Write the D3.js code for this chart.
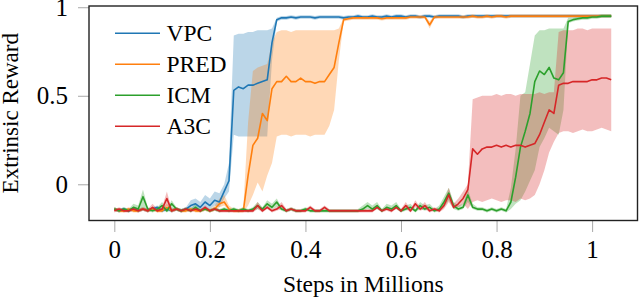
<!DOCTYPE html>
<html><head><meta charset="utf-8">
<script src="https://cdn.jsdelivr.net/npm/d3@7"></script>
<style>body{margin:0;background:#fff}svg{display:block}</style>
</head><body>
<svg id="chart" width="640" height="299"></svg>
<script>
const steps = [0,0.01,0.02,0.03,0.04,0.05,0.06,0.07,0.08,0.09,
0.10,0.11,0.12,0.13,0.14,0.15,0.16,0.17,0.18,0.19,
0.20,0.21,0.22,0.23,0.24,0.25,0.26,0.27,0.28,0.29,
0.30,0.31,0.32,0.33,0.34,0.35,0.36,0.37,0.38,0.39,
0.40,0.41,0.42,0.43,0.44,0.45,0.46,0.47,0.48,0.49,
0.50,0.51,0.52,0.53,0.54,0.55,0.56,0.57,0.58,0.59,
0.60,0.61,0.62,0.63,0.64,0.65,0.66,0.67,0.68,0.69,
0.70,0.71,0.72,0.73,0.74,0.75,0.76,0.77,0.78,0.79,
0.80,0.81,0.82,0.83,0.84,0.85,0.86,0.87,0.88,0.89,
0.90,0.91,0.92,0.93,0.94,0.95,0.96,0.97,0.98,0.99,
1.00,1.01,1.02,1.03,1.04];

const seriesNames = ["VPC","PRED","ICM","A3C"];
const seriesColors = ["#1f77b4","#ff7f0e","#2ca02c","#d62728"];

const vpcMean = [-0.14,-0.15,-0.14,-0.15,-0.14,-0.15,-0.14,-0.15,-0.14,-0.13,
-0.15,-0.14,-0.15,-0.14,-0.15,-0.14,-0.12,-0.11,-0.13,-0.10,
-0.12,-0.09,-0.10,-0.04,0.02,0.53,0.55,0.54,0.56,0.56,
0.57,0.58,0.59,0.80,0.93,0.94,0.94,0.945,0.94,0.945,
0.945,0.945,0.94,0.945,0.945,0.945,0.945,0.945,0.94,0.945,
0.945,0.95,0.945,0.945,0.95,0.945,0.945,0.95,0.945,0.95,
0.95,0.945,0.95,0.95,0.945,0.95,0.95,0.945,0.95,0.95,
0.95,0.95,0.95,0.945,0.95,0.95,0.95,0.95,0.95,0.95,
0.95,0.95,0.95,0.95,0.95,0.95,0.95,0.95,0.95,0.95,
0.95,0.95,0.95,0.95,0.95,0.95,0.95,0.95,0.95,0.95,
0.95,0.95,0.95,0.95,0.95];
const vpcLow = [-0.15,-0.16,-0.15,-0.16,-0.15,-0.16,-0.15,-0.16,-0.15,-0.14,
-0.16,-0.15,-0.16,-0.15,-0.16,-0.15,-0.14,-0.13,-0.15,-0.13,
-0.14,-0.12,-0.13,-0.08,-0.04,0.28,0.27,0.27,0.27,0.27,
0.27,0.27,0.27,0.70,0.92,0.93,0.93,0.935,0.93,0.935,
0.935,0.935,0.93,0.935,0.935,0.935,0.935,0.935,0.93,0.935,
0.935,0.94,0.935,0.935,0.94,0.935,0.935,0.94,0.935,0.94,
0.94,0.935,0.94,0.94,0.935,0.94,0.94,0.935,0.94,0.94,
0.94,0.94,0.94,0.935,0.94,0.94,0.94,0.94,0.94,0.94,
0.94,0.94,0.94,0.94,0.94,0.94,0.94,0.94,0.94,0.94,
0.94,0.94,0.94,0.94,0.94,0.94,0.94,0.94,0.94,0.94,
0.94,0.94,0.94,0.94,0.94];
const vpcHigh = [-0.13,-0.14,-0.13,-0.14,-0.13,-0.14,-0.13,-0.14,-0.13,-0.12,
-0.14,-0.13,-0.14,-0.13,-0.14,-0.13,-0.09,-0.08,-0.10,-0.06,
-0.08,-0.04,-0.05,0.00,0.12,0.84,0.85,0.85,0.86,0.86,
0.87,0.87,0.87,0.88,0.94,0.95,0.95,0.955,0.95,0.955,
0.955,0.955,0.95,0.955,0.955,0.955,0.955,0.955,0.95,0.955,
0.955,0.96,0.955,0.955,0.96,0.955,0.955,0.96,0.955,0.96,
0.96,0.955,0.96,0.96,0.955,0.96,0.96,0.955,0.96,0.96,
0.96,0.96,0.96,0.955,0.96,0.96,0.96,0.96,0.96,0.96,
0.96,0.96,0.96,0.96,0.96,0.96,0.96,0.96,0.96,0.96,
0.96,0.96,0.96,0.96,0.96,0.96,0.96,0.96,0.96,0.96,
0.96,0.96,0.96,0.96,0.96];

const predMean = [-0.14,-0.15,-0.15,-0.14,-0.15,-0.15,-0.14,-0.15,-0.14,-0.15,
-0.15,-0.13,-0.15,-0.14,-0.15,-0.15,-0.14,-0.15,-0.15,-0.14,
-0.15,-0.14,-0.11,-0.10,-0.14,-0.15,-0.15,-0.15,0.05,0.22,
0.26,0.40,0.36,0.54,0.58,0.58,0.61,0.58,0.58,0.60,
0.58,0.58,0.57,0.58,0.58,0.62,0.66,0.80,0.93,0.935,
0.94,0.94,0.94,0.94,0.94,0.94,0.935,0.94,0.94,0.94,
0.94,0.94,0.945,0.945,0.945,0.945,0.90,0.945,0.945,0.945,
0.945,0.945,0.945,0.945,0.945,0.95,0.945,0.945,0.95,0.945,
0.95,0.95,0.945,0.95,0.95,0.95,0.95,0.95,0.95,0.95,
0.95,0.95,0.95,0.95,0.95,0.95,0.95,0.95,0.95,0.95,
0.95,0.95,0.95,0.95,0.95];
const predLow = [-0.15,-0.16,-0.16,-0.15,-0.16,-0.16,-0.15,-0.16,-0.15,-0.16,
-0.16,-0.14,-0.16,-0.15,-0.16,-0.16,-0.15,-0.16,-0.16,-0.15,
-0.16,-0.15,-0.13,-0.12,-0.15,-0.16,-0.16,-0.16,-0.12,-0.06,
0.01,-0.04,0.05,0.12,0.27,0.28,0.28,0.27,0.28,0.28,
0.28,0.27,0.28,0.28,0.28,0.33,0.42,0.70,0.92,0.925,
0.93,0.93,0.93,0.93,0.93,0.93,0.925,0.93,0.93,0.93,
0.93,0.93,0.935,0.935,0.935,0.935,0.88,0.935,0.935,0.935,
0.935,0.935,0.935,0.935,0.935,0.94,0.935,0.935,0.94,0.935,
0.94,0.94,0.935,0.94,0.94,0.94,0.94,0.94,0.94,0.94,
0.94,0.94,0.94,0.94,0.94,0.94,0.94,0.94,0.94,0.94,
0.94,0.94,0.94,0.94,0.94];
const predHigh = [-0.13,-0.14,-0.14,-0.13,-0.14,-0.14,-0.13,-0.14,-0.13,-0.14,
-0.14,-0.11,-0.14,-0.13,-0.14,-0.14,-0.13,-0.14,-0.14,-0.13,
-0.14,-0.12,-0.08,-0.06,-0.12,-0.14,-0.14,-0.13,0.35,0.64,
0.66,0.67,0.68,0.80,0.86,0.87,0.87,0.86,0.87,0.87,
0.87,0.87,0.87,0.87,0.87,0.87,0.87,0.88,0.94,0.945,
0.95,0.95,0.95,0.95,0.95,0.95,0.945,0.95,0.95,0.95,
0.95,0.95,0.955,0.955,0.955,0.955,0.92,0.955,0.955,0.955,
0.955,0.955,0.955,0.955,0.955,0.96,0.955,0.955,0.96,0.955,
0.96,0.96,0.955,0.96,0.96,0.96,0.96,0.96,0.96,0.96,
0.96,0.96,0.96,0.96,0.96,0.96,0.96,0.96,0.96,0.96,
0.96,0.96,0.96,0.96,0.96];

const icmMean = [-0.14,-0.15,-0.14,-0.15,-0.13,-0.14,-0.07,-0.14,-0.15,-0.14,
-0.12,-0.15,-0.11,-0.14,-0.15,-0.14,-0.15,-0.13,-0.15,-0.14,
-0.15,-0.14,-0.15,-0.14,-0.15,-0.14,-0.15,-0.14,-0.15,-0.14,
-0.12,-0.14,-0.11,-0.13,-0.10,-0.14,-0.15,-0.14,-0.15,-0.15,
-0.14,-0.15,-0.15,-0.15,-0.15,-0.15,-0.15,-0.15,-0.15,-0.15,
-0.15,-0.15,-0.14,-0.12,-0.14,-0.12,-0.15,-0.13,-0.14,-0.12,
-0.15,-0.14,-0.13,-0.15,-0.12,-0.14,-0.13,-0.15,-0.14,-0.10,
-0.05,-0.12,-0.14,-0.13,-0.06,-0.13,-0.14,-0.14,-0.15,-0.14,
-0.15,-0.14,-0.15,-0.10,0.04,0.21,0.30,0.40,0.58,0.64,
0.62,0.66,0.60,0.59,0.63,0.92,0.93,0.935,0.94,0.94,
0.945,0.945,0.95,0.95,0.95];
const icmLow = [-0.15,-0.16,-0.15,-0.16,-0.14,-0.15,-0.13,-0.15,-0.16,-0.15,
-0.14,-0.16,-0.14,-0.15,-0.16,-0.15,-0.16,-0.14,-0.16,-0.15,
-0.16,-0.15,-0.16,-0.15,-0.16,-0.15,-0.16,-0.15,-0.16,-0.15,
-0.14,-0.15,-0.13,-0.14,-0.13,-0.15,-0.16,-0.15,-0.16,-0.16,
-0.15,-0.16,-0.16,-0.16,-0.16,-0.16,-0.16,-0.16,-0.16,-0.16,
-0.16,-0.16,-0.15,-0.14,-0.15,-0.14,-0.16,-0.14,-0.15,-0.14,
-0.16,-0.15,-0.14,-0.16,-0.14,-0.15,-0.14,-0.16,-0.15,-0.13,
-0.09,-0.14,-0.15,-0.14,-0.10,-0.14,-0.15,-0.15,-0.16,-0.15,
-0.16,-0.15,-0.16,-0.14,-0.11,-0.09,-0.04,0.02,0.08,0.21,
0.26,0.32,0.30,0.28,0.42,0.91,0.92,0.925,0.93,0.93,
0.935,0.935,0.94,0.94,0.94];
const icmHigh = [-0.13,-0.14,-0.13,-0.14,-0.11,-0.12,-0.03,-0.13,-0.14,-0.13,
-0.10,-0.14,-0.09,-0.13,-0.14,-0.13,-0.14,-0.11,-0.14,-0.13,
-0.14,-0.13,-0.14,-0.13,-0.14,-0.13,-0.14,-0.13,-0.14,-0.13,
-0.10,-0.13,-0.09,-0.11,-0.08,-0.13,-0.14,-0.13,-0.14,-0.14,
-0.13,-0.14,-0.14,-0.14,-0.14,-0.14,-0.14,-0.14,-0.14,-0.14,
-0.14,-0.14,-0.12,-0.10,-0.12,-0.10,-0.14,-0.11,-0.12,-0.10,
-0.14,-0.12,-0.11,-0.14,-0.10,-0.12,-0.11,-0.14,-0.12,-0.07,
-0.02,-0.10,-0.12,-0.11,-0.03,-0.11,-0.13,-0.13,-0.14,-0.13,
-0.14,-0.13,-0.14,-0.02,0.20,0.50,0.52,0.68,0.84,0.87,
0.87,0.88,0.88,0.88,0.88,0.94,0.94,0.945,0.95,0.95,
0.955,0.955,0.96,0.96,0.96];

const a3cMean = [-0.15,-0.14,-0.15,-0.15,-0.14,-0.15,-0.14,-0.15,-0.13,-0.15,
-0.14,-0.08,-0.15,-0.14,-0.15,-0.14,-0.15,-0.14,-0.15,-0.13,
-0.15,-0.14,-0.15,-0.15,-0.15,-0.15,-0.15,-0.15,-0.15,-0.15,
-0.12,-0.15,-0.13,-0.15,-0.14,-0.12,-0.15,-0.14,-0.15,-0.15,
-0.15,-0.13,-0.15,-0.15,-0.13,-0.15,-0.15,-0.15,-0.15,-0.15,
-0.15,-0.15,-0.15,-0.15,-0.15,-0.13,-0.15,-0.14,-0.15,-0.13,
-0.15,-0.12,-0.15,-0.11,-0.14,-0.12,-0.15,-0.14,-0.15,-0.12,
-0.06,-0.13,-0.11,-0.08,-0.03,0.20,0.17,0.20,0.21,0.21,
0.22,0.21,0.22,0.21,0.22,0.22,0.21,0.22,0.23,0.28,
0.35,0.42,0.40,0.56,0.57,0.57,0.58,0.58,0.58,0.58,
0.59,0.59,0.60,0.60,0.59];
const a3cLow = [-0.16,-0.15,-0.16,-0.16,-0.15,-0.16,-0.15,-0.16,-0.14,-0.16,
-0.15,-0.12,-0.16,-0.15,-0.16,-0.15,-0.16,-0.15,-0.16,-0.14,
-0.16,-0.15,-0.16,-0.16,-0.16,-0.16,-0.16,-0.16,-0.16,-0.16,
-0.14,-0.16,-0.14,-0.16,-0.15,-0.14,-0.16,-0.15,-0.16,-0.16,
-0.16,-0.14,-0.16,-0.16,-0.14,-0.16,-0.16,-0.16,-0.16,-0.16,
-0.16,-0.16,-0.16,-0.16,-0.16,-0.14,-0.16,-0.15,-0.16,-0.14,
-0.16,-0.14,-0.16,-0.13,-0.15,-0.14,-0.16,-0.15,-0.16,-0.14,
-0.10,-0.14,-0.13,-0.11,-0.14,-0.10,-0.09,-0.10,-0.09,-0.08,
-0.09,-0.10,-0.09,-0.09,-0.10,-0.08,-0.09,-0.08,-0.06,0.00,
0.08,0.18,0.24,0.29,0.30,0.30,0.29,0.30,0.31,0.30,
0.30,0.31,0.32,0.31,0.30];
const a3cHigh = [-0.14,-0.13,-0.14,-0.14,-0.13,-0.14,-0.13,-0.14,-0.11,-0.14,
-0.13,-0.04,-0.14,-0.13,-0.14,-0.13,-0.14,-0.13,-0.14,-0.12,
-0.14,-0.13,-0.14,-0.14,-0.14,-0.14,-0.14,-0.14,-0.14,-0.14,
-0.10,-0.14,-0.12,-0.14,-0.13,-0.10,-0.14,-0.13,-0.14,-0.14,
-0.14,-0.12,-0.14,-0.14,-0.12,-0.14,-0.14,-0.14,-0.14,-0.14,
-0.14,-0.14,-0.14,-0.14,-0.14,-0.12,-0.14,-0.13,-0.14,-0.12,
-0.14,-0.10,-0.14,-0.09,-0.13,-0.10,-0.14,-0.13,-0.14,-0.10,
-0.02,-0.11,-0.08,-0.04,0.00,0.48,0.49,0.50,0.50,0.50,
0.51,0.50,0.51,0.51,0.50,0.51,0.51,0.51,0.51,0.52,
0.51,0.52,0.52,0.86,0.87,0.87,0.87,0.88,0.88,0.87,
0.88,0.88,0.88,0.88,0.88];

const xTicks = [0,0.2,0.4,0.6,0.8,1];
const yTicks = [0,0.5,1];
const xLabel = "Steps in Millions";
const yLabel = "Extrinsic Reward";

const series = [
  {name:seriesNames[0], color:seriesColors[0], mean:vpcMean, lo:vpcLow, hi:vpcHigh},
  {name:seriesNames[1], color:seriesColors[1], mean:predMean, lo:predLow, hi:predHigh},
  {name:seriesNames[2], color:seriesColors[2], mean:icmMean, lo:icmLow, hi:icmHigh},
  {name:seriesNames[3], color:seriesColors[3], mean:a3cMean, lo:a3cLow, hi:a3cHigh}
];

const L = 89, R = 637.5, T = 6, B = 220.5;
const svg = d3.select("#chart");
const x = d3.scaleLinear().domain([-0.053, 1.095]).range([L, R]);
const y = d3.scaleLinear().domain([-0.2045, 1.007]).range([B, T]);
const FONT = "'Liberation Serif', 'Times New Roman', serif";

const area = (s) => d3.area()
  .x((d,i) => x(steps[i]))
  .y0((d,i) => y(s.lo[i]))
  .y1((d,i) => y(s.hi[i]));
series.forEach(s => {
  svg.append("path").datum(s.mean).attr("d", area(s))
    .attr("fill", s.color).attr("fill-opacity", 0.3).attr("stroke", "none");
});
series.forEach(s => {
  svg.append("path").datum(s.mean)
    .attr("d", d3.line().x((d,i) => x(steps[i])).y(d => y(d)))
    .attr("fill", "none").attr("stroke", s.color).attr("stroke-width", 1.6)
    .attr("stroke-linejoin", "round");
});

const xa = svg.append("g").attr("transform", `translate(0,${B})`)
  .call(d3.axisBottom(x).tickValues(xTicks).tickSize(11.5).tickPadding(8).tickFormat(d3.format("~g")));
const ya = svg.append("g").attr("transform", `translate(${L},0)`)
  .call(d3.axisLeft(y).tickValues(yTicks).tickSize(11).tickPadding(10).tickFormat(d3.format("~g")));
[xa, ya].forEach(g => {
  g.attr("font-family", FONT).attr("font-size", 25);
  g.select(".domain").remove();
  g.selectAll(".tick line").attr("stroke", "#a8a8a8").attr("stroke-width", 1);
  g.selectAll(".tick text").attr("fill", "#000").style("font-family", FONT).style("font-size", "25px");
});

svg.append("rect").attr("x", L).attr("y", T).attr("width", R - L).attr("height", B - T)
  .attr("fill", "none").attr("stroke", "#222").attr("stroke-width", 1.4);

svg.append("text").attr("x", (L + R) / 2).attr("y", 292).attr("text-anchor", "middle")
  .style("font-family", FONT).style("font-size", "23.5px").text(xLabel);
svg.append("text").attr("transform", `translate(18,${(T + B) / 2}) rotate(-90)`)
  .attr("text-anchor", "middle")
  .style("font-family", FONT).style("font-size", "23px").text(yLabel);

const lg = svg.append("g");
series.forEach((s, i) => {
  const cy = 33.3 + i * 31;
  lg.append("line").attr("x1", 115).attr("x2", 160).attr("y1", cy).attr("y2", cy)
    .attr("stroke", s.color).attr("stroke-width", 1.6);
  lg.append("text").attr("x", 166.5).attr("y", cy + 7.8)
    .style("font-family", FONT).style("font-size", "23.5px").text(s.name);
});
</script>
</body></html>
